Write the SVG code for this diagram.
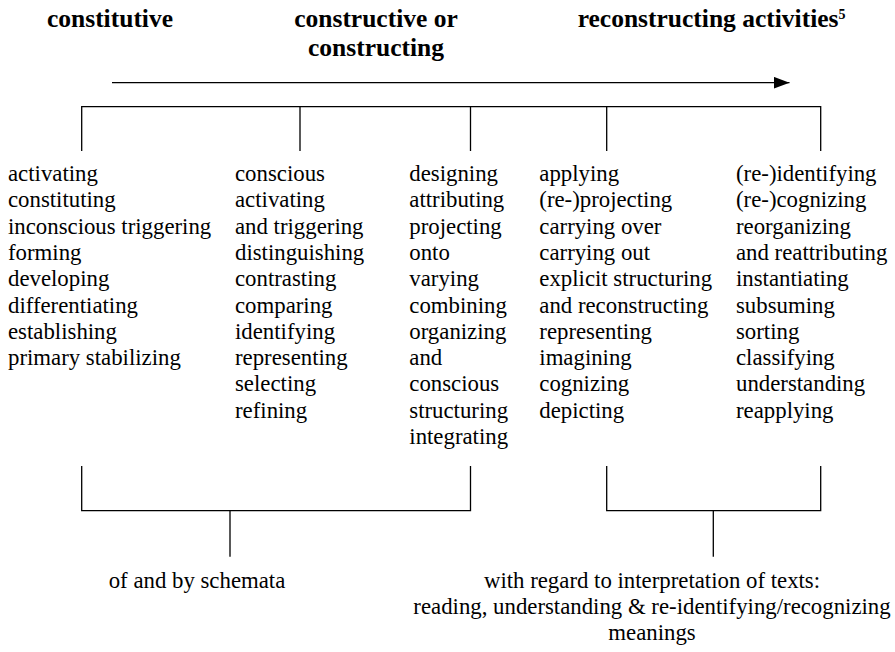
<svg xmlns="http://www.w3.org/2000/svg" width="895" height="652" viewBox="0 0 895 652">
<defs>
<style>
.h{font-family:"Liberation Serif","Times New Roman",serif;font-weight:bold;font-size:25.5px;fill:#000}
.t{font-family:"Liberation Serif","Times New Roman",serif;font-size:22.8px;fill:#000}
.ln{stroke:#000;stroke-width:1.3;fill:none}
</style>
<marker id="ah" viewBox="0 0 16 12" refX="16" refY="6" markerWidth="16" markerHeight="12" markerUnits="userSpaceOnUse" orient="auto">
<path d="M0,0 L16,6 L0,12 Z" fill="#000"/>
</marker>
</defs>
<rect width="895" height="652" fill="#fff"/>
<g id="headers">
<text class="h" x="110" y="26.7" text-anchor="middle">constitutive</text>
<text class="h" x="376" y="26.7" text-anchor="middle">constructive or</text>
<text class="h" x="376" y="55.7" text-anchor="middle">constructing</text>
<text class="h" x="577.7" y="26.7">reconstructing activities<tspan font-size="14" dy="-8">5</tspan></text>
</g>
<g id="connectors">
<line class="ln" x1="112" y1="82.7" x2="789.5" y2="82.7" marker-end="url(#ah)"/>
<path class="ln" d="M81.7,151 V106.7 H820.7 V151 M300,106.7 V151 M470.5,106.7 V151 M606.7,106.7 V151"/>
<path class="ln" d="M81.7,466 V510.7 H470.5 V466 M230,510.7 V556.7"/>
<path class="ln" d="M606.7,466 V510.7 H820.7 V466 M713.3,510.7 V556.7"/>
</g>
<g id="col1">
<text class="t" x="8" y="181">activating</text>
<text class="t" x="8" y="207.3">constituting</text>
<text class="t" x="8" y="233.6">inconscious triggering</text>
<text class="t" x="8" y="259.9">forming</text>
<text class="t" x="8" y="286.2">developing</text>
<text class="t" x="8" y="312.5">differentiating</text>
<text class="t" x="8" y="338.8">establishing</text>
<text class="t" x="8" y="365.1">primary stabilizing</text>
</g>
<g id="col2">
<text class="t" x="235" y="181">conscious</text>
<text class="t" x="235" y="207.3">activating</text>
<text class="t" x="235" y="233.6">and triggering</text>
<text class="t" x="235" y="259.9">distinguishing</text>
<text class="t" x="235" y="286.2">contrasting</text>
<text class="t" x="235" y="312.5">comparing</text>
<text class="t" x="235" y="338.8">identifying</text>
<text class="t" x="235" y="365.1">representing</text>
<text class="t" x="235" y="391.4">selecting</text>
<text class="t" x="235" y="417.7">refining</text>
</g>
<g id="col3">
<text class="t" x="409.3" y="181">designing</text>
<text class="t" x="409.3" y="207.3">attributing</text>
<text class="t" x="409.3" y="233.6">projecting</text>
<text class="t" x="409.3" y="259.9">onto</text>
<text class="t" x="409.3" y="286.2">varying</text>
<text class="t" x="409.3" y="312.5">combining</text>
<text class="t" x="409.3" y="338.8">organizing</text>
<text class="t" x="409.3" y="365.1">and</text>
<text class="t" x="409.3" y="391.4">conscious</text>
<text class="t" x="409.3" y="417.7">structuring</text>
<text class="t" x="409.3" y="444">integrating</text>
</g>
<g id="col4">
<text class="t" x="539.3" y="181">applying</text>
<text class="t" x="539.3" y="207.3">(re-)projecting</text>
<text class="t" x="539.3" y="233.6">carrying over</text>
<text class="t" x="539.3" y="259.9">carrying out</text>
<text class="t" x="539.3" y="286.2">explicit structuring</text>
<text class="t" x="539.3" y="312.5">and reconstructing</text>
<text class="t" x="539.3" y="338.8">representing</text>
<text class="t" x="539.3" y="365.1">imagining</text>
<text class="t" x="539.3" y="391.4">cognizing</text>
<text class="t" x="539.3" y="417.7">depicting</text>
</g>
<g id="col5">
<text class="t" x="736" y="181">(re-)identifying</text>
<text class="t" x="736" y="207.3">(re-)cognizing</text>
<text class="t" x="736" y="233.6">reorganizing</text>
<text class="t" x="736" y="259.9">and reattributing</text>
<text class="t" x="736" y="286.2">instantiating</text>
<text class="t" x="736" y="312.5">subsuming</text>
<text class="t" x="736" y="338.8">sorting</text>
<text class="t" x="736" y="365.1">classifying</text>
<text class="t" x="736" y="391.4">understanding</text>
<text class="t" x="736" y="417.7">reapplying</text>
</g>
<g id="label-schemata">
<text class="t" x="197" y="588" text-anchor="middle">of and by schemata</text>
</g>
<g id="label-texts">
<text class="t" x="652" y="588" text-anchor="middle">with regard to interpretation of texts:</text>
<text class="t" x="652" y="614" text-anchor="middle">reading, understanding &amp; re-identifying/recognizing</text>
<text class="t" x="652" y="640" text-anchor="middle">meanings</text>
</g>
</svg>
